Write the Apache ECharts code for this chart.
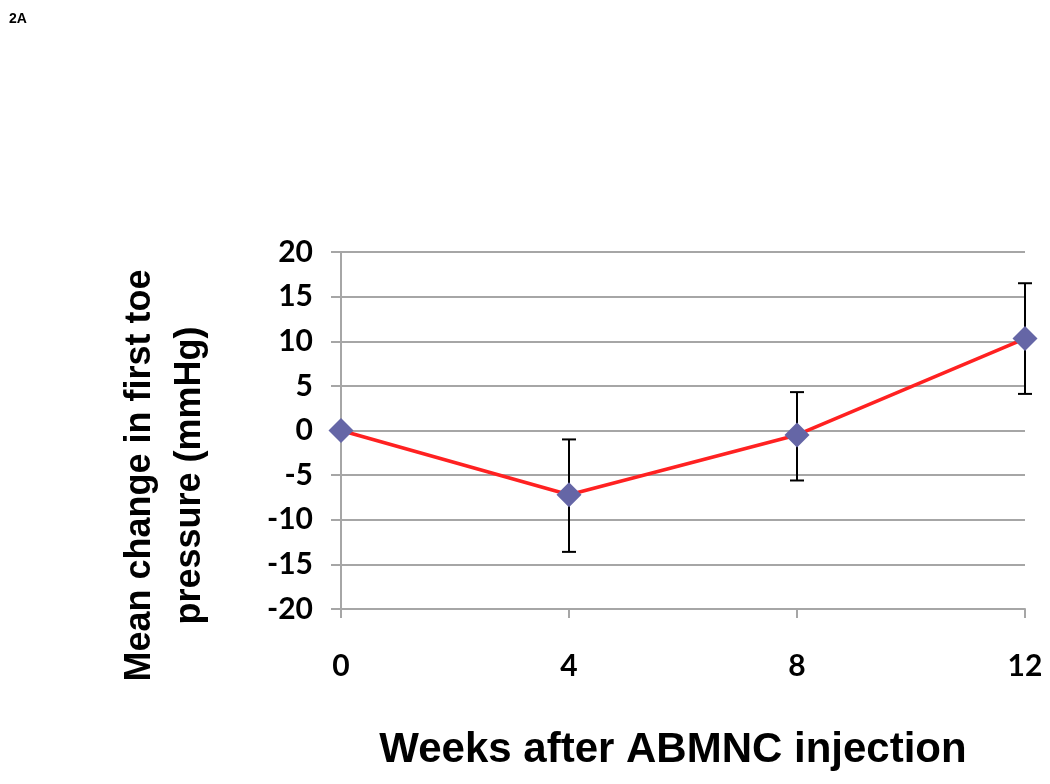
<!DOCTYPE html>
<html>
<head>
<meta charset="utf-8">
<script src="https://cdn.jsdelivr.net/npm/echarts@6/dist/echarts.min.js"></script>
<style>html,body{margin:0;padding:0;background:#fff;}#c{width:1050px;height:784px;}</style>
</head>
<body>
<div id="c"></div>
<script>
var weeks = [0, 4, 8, 12];
var meanChange = [0, -7.2, -0.5, 10.3];
var errUpper = [0, -1.0, 4.3, 16.5];
var errLower = [0, -13.6, -5.6, 4.1];
var yTicks = [-20, -15, -10, -5, 0, 5, 10, 15, 20];

var chart = echarts.init(document.getElementById('c'));
var lineData = weeks.map(function (w, i) { return [w, meanChange[i]]; });
var errData = weeks.map(function (w, i) { return [w, errLower[i], errUpper[i]]; }).filter(function (d) { return d[1] !== d[2]; });

chart.setOption({
  animation: false,
  title: {
    text: '2A', left: 4, top: 7,
    textStyle: { fontFamily: 'Liberation Sans, Arial', fontWeight: 'bold', fontSize: 14, color: '#000' }
  },
  grid: { left: 341, right: 25, top: 252, bottom: 175, containLabel: false },
  xAxis: {
    type: 'value', min: 0, max: 12, interval: 4,
    name: 'Weeks after ABMNC injection',
    nameLocation: 'middle', nameGap: 120,
    nameTextStyle: { fontFamily: 'Liberation Sans, Arial', fontWeight: 'bold', fontSize: 42, color: '#000', padding: [0, 20, 0, 0] },
    axisLine: { show: true, onZero: false, lineStyle: { color: '#a6a6a6', width: 2 } },
    axisTick: { show: true, length: 9, lineStyle: { color: '#a6a6a6', width: 2 } },
    axisLabel: { margin: 42, fontFamily: 'Lato', fontWeight: 'bold', fontSize: 30, color: '#000' },
    splitLine: { show: false }
  },
  yAxis: {
    type: 'value', min: -20, max: 20, interval: 5,
    name: 'Mean change in first toe\npressure (mmHg)',
    nameLocation: 'middle', nameGap: 126, nameRotate: 90,
    nameTextStyle: { fontFamily: 'Liberation Sans, Arial', fontWeight: 'bold', fontSize: 36, lineHeight: 50, color: '#000', align: 'center', padding: [0, 90, 0, 0] },
    axisLine: { show: true, onZero: false, lineStyle: { color: '#a6a6a6', width: 2 } },
    axisTick: { show: true, length: 10, lineStyle: { color: '#a6a6a6', width: 2 } },
    axisLabel: { margin: 28, fontFamily: 'Lato', fontWeight: 'bold', fontSize: 30, color: '#000',
      formatter: function (v) { return yTicks.indexOf(v) >= 0 ? String(v) : ''; } },
    splitLine: { show: true, lineStyle: { color: '#a6a6a6', width: 2 } }
  },
  series: [
    {
      type: 'custom',
      data: errData,
      z: 3,
      renderItem: function (params, api) {
        var x = api.value(0);
        var lo = api.coord([x, api.value(1)]);
        var hi = api.coord([x, api.value(2)]);
        var hw = 7;
        var st = { stroke: '#000', lineWidth: 2 };
        return {
          type: 'group',
          children: [
            { type: 'line', shape: { x1: lo[0], y1: lo[1], x2: hi[0], y2: hi[1] }, style: st },
            { type: 'line', shape: { x1: hi[0] - hw, y1: hi[1], x2: hi[0] + hw, y2: hi[1] }, style: st },
            { type: 'line', shape: { x1: lo[0] - hw, y1: lo[1], x2: lo[0] + hw, y2: lo[1] }, style: st }
          ]
        };
      }
    },
    {
      type: 'line',
      data: lineData,
      z: 4,
      lineStyle: { color: '#ff2121', width: 3.5 },
      symbol: 'diamond',
      symbolSize: 25,
      itemStyle: { color: '#6566a6', borderWidth: 0 },
      clip: false
    }
  ]
});
</script>
</body>
</html>
